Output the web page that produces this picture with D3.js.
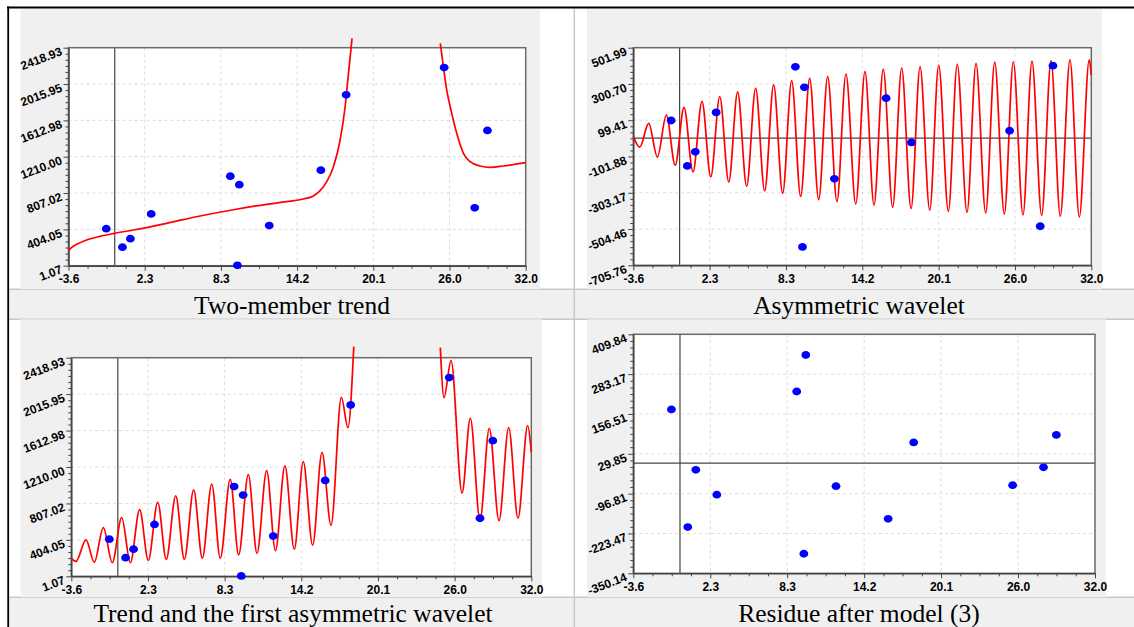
<!DOCTYPE html>
<html><head><meta charset="utf-8">
<script src="https://cdn.jsdelivr.net/npm/d3@7"></script>
<style>
html,body{margin:0;padding:0;background:#fff;}
svg{display:block;}
.caption{font-family:"Liberation Serif","Times New Roman",serif;font-size:25.5px;fill:#000;}
</style></head><body><svg id="c" width="1134" height="627"></svg>
<script>
// ---------- data ----------
const xTickLabels = ["-3.6","2.3","8.3","14.2","20.1","26.0","32.0"];
const trendTickLabels = ["1.07","404.05","807.02","1210.00","1612.98","2015.95","2418.93"];
const waveletTickLabels = ["-705.76","-504.46","-303.17","-101.88","99.41","300.70","501.99"];
const residueTickLabels = ["-350.14","-223.47","-96.81","29.85","156.51","283.17","409.84"];
const captions = ["Two-member trend","Asymmetric wavelet","Trend and the first asymmetric wavelet","Residue after model (3)"];

// observations
const obsX = [-0.66, 0.6, 1.22, 2.84, 9.0, 9.7, 9.55, 12.03, 16.05, 18.02, 25.65, 28.03, 29.02];
const obsValue = [412, 207, 301, 575, 994, 900, 5, 446, 1061, 1896, 2199, 643, 1501];
const obsWavelet = [98, -154, -76, 143, 396, 282, -604, -226, 222, -24, 41, -489, 402];
const obsResidue = [171, -203, -21, -100, 228, 344, -288, -73, -177, 66, -70, -13, 90];

// two-member trend (two branches)
const trendLeftX = [-3.6, -3.35, -2.96, -2.19, -1.15, -0.03, 1.45, 4.04, 6.64, 9.24, 11.83, 13.39, 14.69, 15.47, 15.99, 16.51, 17.03, 17.55, 17.94, 18.2, 18.48];
const trendLeftY = [168, 205, 238, 286, 327, 360, 397, 471, 552, 622, 682, 711, 741, 774, 833, 933, 1099, 1395, 1764, 2134, 2522];
const trendRightX = [25.35, 25.59, 25.85, 26.24, 26.63, 27.15, 27.67, 28.45, 29.22, 30.26, 32.0];
const trendRightY = [2467, 2208, 1950, 1691, 1469, 1248, 1155, 1107, 1092, 1107, 1144];

// asymmetric wavelet (extremes)
const waveX = [-3.6, -3.10, -2.40, -1.73, -1.03, -0.34, 0.34, 1.04, 1.74, 2.42, 3.12, 3.82, 4.51, 5.21, 5.91, 6.61, 7.31, 8.01, 8.71, 9.41, 10.11, 10.81, 11.51, 12.23, 12.93, 13.69, 14.41, 15.11, 15.83, 16.56, 17.26, 17.99, 18.69, 19.44, 20.14, 20.89, 21.58, 22.34, 23.04, 23.79, 24.49, 25.24, 25.94, 26.69, 27.39, 28.14, 28.87, 29.59, 30.34, 31.07, 31.84, 32.0];
const waveY = [10, -50, 82, -105, 128, -150, 171, -187, 204, -215, 230, -243, 257, -267, 276, -293, 296, -306, 319, -324, 332, -341, 341, -352, 356, -365, 369, -371, 382, -383, 389, -391, 396, -400, 404, -406, 410, -411, 415, -415, 422, -421, 424, -426, 428, -428, 430, -433, 434, -437, 434, 350];

// trend + first wavelet (two branches)
const modelLeftX = [-3.6, -3.24, -2.46, -1.82, -1.12, -0.43, 0.30, 0.97, 1.69, 2.36, 3.09, 3.75, 4.48, 5.15, 5.87, 6.54, 7.27, 7.93, 8.70, 9.35, 10.10, 10.77, 11.52, 12.2, 12.93, 13.66, 14.35, 15.08, 15.80, 16.50, 17.30, 17.81, 18.26];
const modelLeftY = [200, 167, 403, 156, 539, 151, 649, 151, 738, 178, 820, 189, 892, 189, 956, 200, 1022, 200, 1074, 237, 1125, 255, 1169, 284, 1222, 300, 1269, 344, 1373, 565, 1981, 1645, 2541];
const modelRightX = [24.96, 25.24, 25.79, 26.64, 27.28, 28.03, 28.75, 29.50, 30.25, 30.97, 31.72, 32.0];
const modelRightY = [2530, 1977, 2386, 922, 1749, 624, 1638, 616, 1645, 643, 1667, 1373];

// ---------- drawing ----------
const svg = d3.select("#c");
const W = 1134, H = 627;
const LIGHT = "#f0f0f0", SEP = "#c8c8c8";
const TICK_FONT = "bold 12px 'Liberation Sans', Arial, sans-serif";

svg.append("rect").attr("x",0).attr("y",0).attr("width",W).attr("height",H).attr("fill","#fff");

const panels = [
  {bg:[20.7,9,540,289.3], plot:[68.5,47.7,525.7,265.7], yLabels:trendTickLabels, caption:captions[0], capX:292, capY:313.5,
   curves:[[trendLeftX,trendLeftY],[trendRightX,trendRightY]], pts:obsValue, hZero:false},
  {bg:[587,9,1102,289.3], plot:[633.3,47.7,1091.3,265.3], yLabels:waveletTickLabels, caption:captions[1], capX:859, capY:313.5,
   curves:[[waveX,waveY]], pts:obsWavelet, hZero:true},
  {bg:[20.7,319.3,541.7,597.3], plot:[71.3,357.7,531.3,576.3], yLabels:trendTickLabels, caption:captions[2], capX:293, capY:621.5,
   curves:[[modelLeftX,modelLeftY],[modelRightX,modelRightY]], pts:obsValue, hZero:false},
  {bg:[587,319.3,1105.7,597.3], plot:[633.3,334.3,1095,573.3], yLabels:residueTickLabels, caption:captions[3], capX:859, capY:621.5,
   curves:[], pts:obsResidue, hZero:true}
];

// caption rows
[[289.3,319.3],[597.3,640]].forEach(([a,b])=>{
  svg.append("rect").attr("x",9).attr("y",a).attr("width",W-9).attr("height",b-a).attr("fill",LIGHT);
  svg.append("line").attr("x1",9).attr("x2",W).attr("y1",a).attr("y2",a).attr("stroke",SEP).attr("stroke-width",1.5);
  svg.append("line").attr("x1",9).attr("x2",W).attr("y1",b).attr("y2",b).attr("stroke",SEP).attr("stroke-width",1.5);
});

const xDomain = [+xTickLabels[0], +xTickLabels[xTickLabels.length-1]];

panels.forEach(p=>{
  const [bx0,by0,bx1,by1] = p.bg;
  svg.append("rect").attr("x",bx0).attr("y",by0).attr("width",bx1-bx0).attr("height",by1-by0).attr("fill",LIGHT);
  const [x0,y0,x1,y1] = p.plot;
  const yDomain = [+p.yLabels[0], +p.yLabels[p.yLabels.length-1]];
  const x = d3.scaleLinear().domain(xDomain).range([x0,x1]);
  const y = d3.scaleLinear().domain(yDomain).range([y1,y0]);
  const g = svg.append("g");
  g.append("rect").attr("x",x0).attr("y",y0).attr("width",x1-x0).attr("height",y1-y0).attr("fill","#fff");

  const nx = xTickLabels.length-1, ny = p.yLabels.length-1;
  const xMajor = d3.range(nx+1).map(i=>xDomain[0]+i*(xDomain[1]-xDomain[0])/nx);
  const yMajor = d3.range(ny+1).map(i=>yDomain[0]+i*(yDomain[1]-yDomain[0])/ny);
  const xMinor = [], yMinor = [];
  for(let i=0;i<nx;i++) for(let k=1;k<4;k++) xMinor.push(xMajor[i]+k*(xMajor[i+1]-xMajor[i])/4);
  for(let i=0;i<ny;i++) for(let k=1;k<6;k++) yMinor.push(yMajor[i]+k*(yMajor[i+1]-yMajor[i])/6);

  // grid
  const grid = g.append("g").attr("stroke","#dcdcdc").attr("stroke-width",1).attr("stroke-dasharray","3,3");
  xMajor.slice(1,-1).forEach(v=>grid.append("line").attr("x1",x(v)).attr("x2",x(v)).attr("y1",y0).attr("y2",y1));
  yMajor.slice(1,-1).forEach(v=>grid.append("line").attr("y1",y(v)).attr("y2",y(v)).attr("x1",x0).attr("x2",x1));

  // zero lines
  g.append("line").attr("x1",x(0)).attr("x2",x(0)).attr("y1",y0).attr("y2",y1).attr("stroke","#444").attr("stroke-width",1.2);
  if(p.hZero) g.append("line").attr("x1",x0).attr("x2",x1).attr("y1",y(0)).attr("y2",y(0)).attr("stroke","#444").attr("stroke-width",1.2);

  // frame
  g.append("rect").attr("x",x0).attr("y",y0).attr("width",x1-x0).attr("height",y1-y0)
    .attr("fill","none").attr("stroke","#6a6a6a").attr("stroke-width",1.5);

  // axes
  const xa = g.append("g").attr("transform",`translate(0,${y1})`)
    .call(d3.axisBottom(x).tickValues(xMajor).tickFormat((d,i)=>xTickLabels[i]).tickSize(5).tickSizeOuter(0));
  xa.select(".domain").attr("stroke","#444").attr("stroke-width",1.5);
  xa.selectAll(".tick line").attr("stroke","#444");
  xa.selectAll(".tick text").attr("y",17.5).attr("dy",0).style("font",TICK_FONT).attr("fill","#000");
  const xm = g.append("g").attr("transform",`translate(0,${y1})`)
    .call(d3.axisBottom(x).tickValues(xMinor).tickFormat("").tickSize(3).tickSizeOuter(0));
  xm.select(".domain").remove(); xm.selectAll(".tick line").attr("stroke","#444");

  const ya = g.append("g").attr("transform",`translate(${x0},0)`)
    .call(d3.axisLeft(y).tickValues(yMajor).tickFormat((d,i)=>p.yLabels[i]).tickSize(5).tickSizeOuter(0));
  ya.select(".domain").attr("stroke","#444").attr("stroke-width",1.5);
  ya.selectAll(".tick line").attr("stroke","#444");
  ya.selectAll(".tick text").attr("x",0).attr("dy",0).attr("text-anchor","end")
    .attr("transform","translate(-5.5,6.5) rotate(-21)").style("font",TICK_FONT).attr("fill","#000");
  const ym = g.append("g").attr("transform",`translate(${x0},0)`)
    .call(d3.axisLeft(y).tickValues(yMinor).tickFormat("").tickSize(3).tickSizeOuter(0));
  ym.select(".domain").remove(); ym.selectAll(".tick line").attr("stroke","#444");

  // curves
  const line = d3.line().x(d=>x(d[0])).y(d=>y(d[1])).curve(d3.curveMonotoneX);
  p.curves.forEach(([cx,cy])=>{
    g.append("path").attr("d",line(cx.map((v,i)=>[v,cy[i]])))
      .attr("fill","none").attr("stroke","#ff0000").attr("stroke-width",1.7);
  });

  // points
  g.selectAll("ellipse.pt").data(obsX.map((v,i)=>[v,p.pts[i]])).enter().append("ellipse")
    .attr("cx",d=>x(d[0])).attr("cy",d=>y(d[1])).attr("rx",4.4).attr("ry",3.9).attr("fill","#0000ff");

  svg.append("text").attr("class","caption").attr("x",p.capX).attr("y",p.capY).attr("text-anchor","middle").text(p.caption);
});

// separators and outer border
svg.append("line").attr("x1",574.3).attr("x2",574.3).attr("y1",9).attr("y2",H).attr("stroke",SEP).attr("stroke-width",1.5);
svg.append("line").attr("x1",7).attr("x2",W).attr("y1",7.5).attr("y2",7.5).attr("stroke","#000").attr("stroke-width",1.8);
svg.append("line").attr("x1",8.2).attr("x2",8.2).attr("y1",6.6).attr("y2",H).attr("stroke","#000").attr("stroke-width",1.8);
</script></body></html>
